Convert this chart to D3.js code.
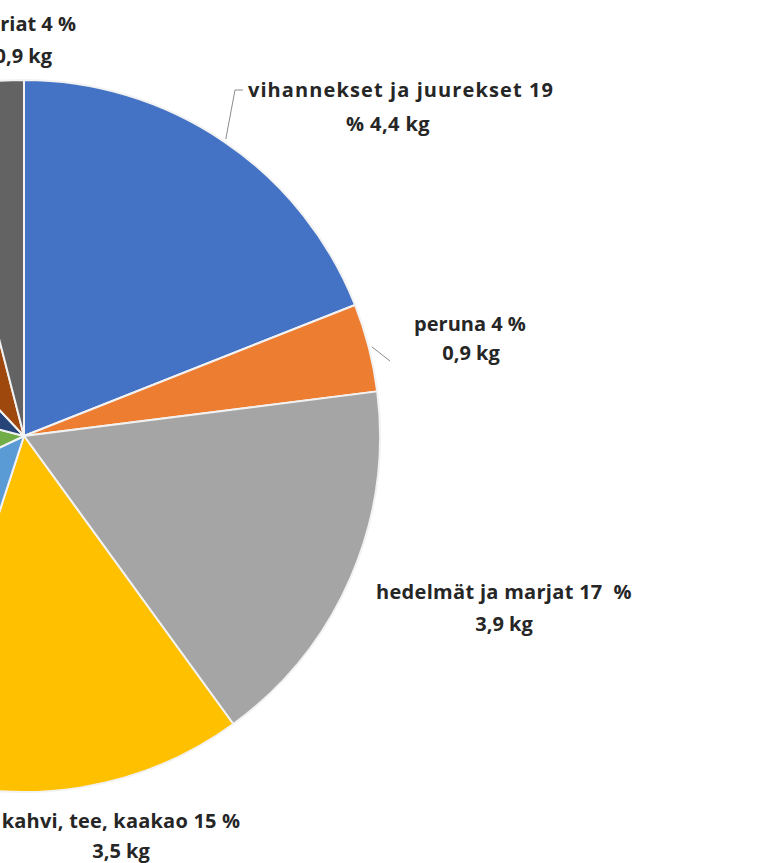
<!DOCTYPE html>
<html>
<head>
<meta charset="utf-8">
<script src="https://cdn.jsdelivr.net/npm/d3@7"></script>
<style>
  html, body { margin: 0; padding: 0; background: #ffffff; }
  svg { display: block; }
  text { font-family: "Open Sans", Lato, sans-serif; font-weight: 700; fill: #262626; white-space: pre; }
</style>
</head>
<body>
<svg id="chart" width="763" height="863"></svg>
<script>
// ---- data ----
const categories = [
  "vihannekset ja juurekset",
  "peruna",
  "hedelmät ja marjat",
  "kahvi, tee, kaakao",
  "liha ja kala",
  "maito ja juusto",
  "viljatuotteet",
  "rasvat ja öljyt",
  "makeiset ja konditoriat"
];
const percents = [19, 4, 17, 15, 13, 11, 9, 8, 4];
const kilograms = ["4,4", "0,9", "3,9", "3,5", "3,0", "2,5", "2,1", "1,8", "0,9"];
const colors = ["#4472C4", "#ED7D31", "#A5A5A5", "#FFC000", "#5B9BD5", "#70AD47", "#264478", "#9E480E", "#636363"];

// label text lines built from the data
function labelLines(i) {
  const c = categories[i], p = percents[i], k = kilograms[i];
  if (i === 0) return [`${c} ${p}`, `% ${k} kg`];
  if (i === 2) return [`${c} ${p}  %`, `${k} kg`];
  if (i === 8) return ["makeiset ja", `konditoriat ${p} %`, `${k} kg`];
  return [`${c} ${p} %`, `${k} kg`];
}

// ---- layout ----
const cx = 24, cy = 436, R = 356;
const fontSize = 20;
// per-label line positions (x, baseline y, anchor, letter-spacing)
const labelLayout = {
  0: [[401, 97, "middle", 1.1], [388, 131, "middle", 0.4]],
  1: [[470, 331, "middle", 0], [471, 360, "middle", 0]],
  2: [[504, 599, "middle", 0.3], [504, 631, "middle", 0]],
  3: [[121, 828, "middle", 0.2], [121, 858, "middle", 0]],
  8: [[-10, -2, "end", 0], [76, 31, "end", 0], [52, 63, "end", 0]]
};
const leaderEnds = { 0: [[235, 90], [243, 90]], 1: [[390, 361]] };

const svg = d3.select("#chart");
const g = svg.append("g").attr("transform", `translate(${cx},${cy})`);

const data = categories.map((c, i) => ({ name: c, pct: percents[i], idx: i }));
const pie = d3.pie().sort(null).value(d => d.pct);
const arcs = pie(data);
const arc = d3.arc().innerRadius(0).outerRadius(R);

g.selectAll("path.slice")
  .data(arcs)
  .join("path")
  .attr("class", "slice")
  .attr("d", arc)
  .attr("fill", d => colors[d.data.idx])
  .attr("stroke", "#f2f2f2")
  .attr("stroke-width", 2)
  .attr("stroke-linejoin", "round");

// leader lines
const line = d3.line();
arcs.forEach(a => {
  const ends = leaderEnds[a.data.idx];
  if (!ends) return;
  const mid = (a.startAngle + a.endAngle) / 2;
  const start = [cx + (R + 3) * Math.sin(mid), cy - (R + 3) * Math.cos(mid)];
  svg.append("path")
    .attr("d", line([start, ...ends]))
    .attr("fill", "none")
    .attr("stroke", "#8c8c8c")
    .attr("stroke-width", 1);
});

// labels; those of the left-hand slices fall outside the cropped view
arcs.forEach(a => {
  const i = a.data.idx;
  const lines = labelLines(i);
  let layout = labelLayout[i];
  if (!layout) {
    const mid = (a.startAngle + a.endAngle) / 2;
    const x = cx + (R + 60) * Math.sin(mid), y = cy - (R + 60) * Math.cos(mid);
    layout = lines.map((_, j) => [x, y + j * 31, "middle", 0]);
  }
  const t = svg.append("text").attr("font-size", fontSize);
  lines.forEach((s, j) => {
    t.append("tspan")
      .attr("x", layout[j][0])
      .attr("y", layout[j][1])
      .attr("text-anchor", layout[j][2])
      .attr("letter-spacing", layout[j][3])
      .text(s);
  });
});
</script>
</body>
</html>
